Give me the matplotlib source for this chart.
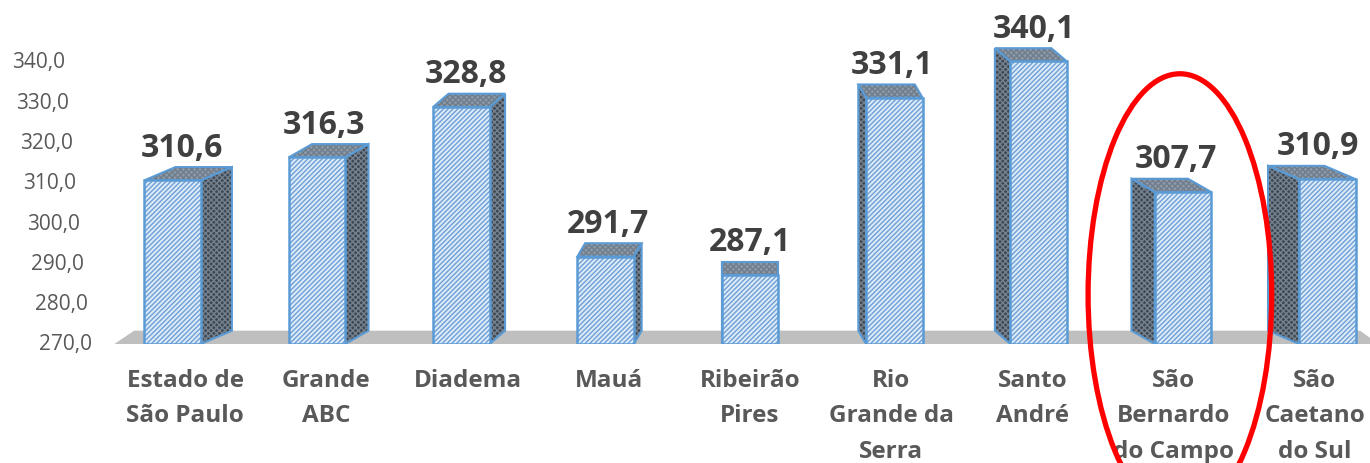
import matplotlib
matplotlib.use("Agg")
import matplotlib.pyplot as plt
from matplotlib.patches import Polygon, Ellipse

categories = ["Estado de\nSão Paulo", "Grande\nABC", "Diadema", "Mauá", "Ribeirão\nPires",
              "Rio\nGrande da\nSerra", "Santo\nAndré", "São\nBernardo\ndo Campo", "São\nCaetano\ndo Sul"]
values = [310.6, 316.3, 328.8, 291.7, 287.1, 331.1, 340.1, 307.7, 310.9]
value_labels = ["310,6", "316,3", "328,8", "291,7", "287,1", "331,1", "340,1", "307,7", "310,9"]
y_ticks = [270, 280, 290, 300, 310, 320, 330, 340]
y_tick_labels = ["270,0", "280,0", "290,0", "300,0", "310,0", "320,0", "330,0", "340,0"]
highlight = 7  # São Bernardo do Campo

plt.rcParams["font.family"] = ["Open Sans", "DejaVu Sans"]
plt.rcParams["hatch.linewidth"] = 1.0

FRONT = "#DDEBF8"
EDGE = "#5B9BD5"
HATCH = "#6E9FD6"
SIDE = "#3D4752"
SIDE_HATCH = "#75818E"
TOP = "#8E9AA8"
FLOOR = "#BFBFBF"
BASE = 270

fig = plt.figure(figsize=(13.7, 4.64), dpi=100)
ax = fig.add_axes([100 / 1370, 0.2565, 1 - 100 / 1370, 0.9079 - 0.2565])
ax.set_xlim(-0.602, 8.39)
ax.set_ylim(BASE, 345)
ax.axis("off")

n = len(values)
mid = (n - 1) / 2
bar_w = 0.40
depth_y = 3.3

# floor
floor = Polygon([(-0.50, BASE), (8.45, BASE), (8.32, BASE + depth_y), (-0.36, BASE + depth_y)],
                closed=True, facecolor=FLOOR, edgecolor="none", zorder=1, clip_on=False)
ax.add_patch(floor)

xs = [i + 0.022 * (i - mid) for i in range(n)]
bars = ax.bar(xs, [v - BASE for v in values], bottom=BASE, width=bar_w,
              color=FRONT, edgecolor=HATCH, hatch="///////", linewidth=0, zorder=4)
ax.bar(xs, [v - BASE for v in values], bottom=BASE, width=bar_w,
       fill=False, edgecolor=EDGE, linewidth=1.8, zorder=5)

for i, (b, v) in enumerate(zip(bars, values)):
    xl = b.get_x()
    xr = xl + b.get_width()
    dx = -0.055 * (i - mid)
    # top face
    top = [(xl, v), (xr, v), (xr + dx, v + depth_y), (xl + dx, v + depth_y)]
    # side face
    if dx > 0:
        side = [(xr, BASE), (xr, v), (xr + dx, v + depth_y), (xr + dx, BASE + depth_y)]
    else:
        side = [(xl, BASE), (xl, v), (xl + dx, v + depth_y), (xl + dx, BASE + depth_y)]
    for pts, fc, hc, h in [(side, SIDE, SIDE_HATCH, "xxxxxx"), (top, TOP, "#6F7D8C", "xxxxxx")]:
        ax.add_patch(Polygon(pts, closed=True, facecolor=fc, edgecolor=hc, hatch=h,
                             linewidth=0, zorder=3))
        ax.add_patch(Polygon(pts, closed=True, fill=False, edgecolor=EDGE,
                             linewidth=1.5, zorder=3.5))
    ax.annotate(value_labels[i], (b.get_x() + bar_w / 2 + 0.3 * dx, v),
                xytext=(0, 12), textcoords="offset points", ha="center", va="bottom",
                fontsize=23, fontweight="bold", color="#404040", zorder=6)

# category labels
for i, lab in enumerate(categories):
    ax.annotate(lab, (i, BASE), xytext=(0, -17), textcoords="offset points",
                ha="center", va="top", fontsize=17.5, fontweight="bold",
                color="#595959", linespacing=1.65, annotation_clip=False)

# y tick labels, staggered like the perspective axis
for t, lab in zip(y_ticks, y_tick_labels):
    px = 65 + (340 - t) / 10 * 3.8
    ax.text((px - 185) / 141.25, t, lab, ha="right", va="center",
            fontsize=15, color="#595959")

# highlight ellipse
ax.add_patch(Ellipse((highlight + 0.044, 282.2), 1.30, 109.7, fill=False,
                     edgecolor="#FF0000", linewidth=3.8, zorder=7, clip_on=False))

fig.savefig("out.png", dpi=100)
